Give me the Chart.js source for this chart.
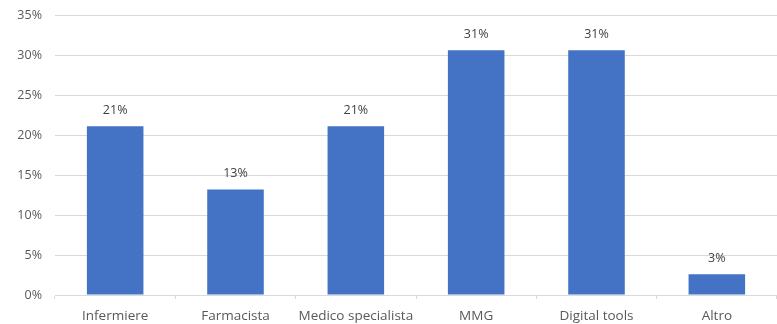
<!DOCTYPE html>
<html>
<head>
<meta charset="utf-8">
<script src="https://cdn.jsdelivr.net/npm/chart.js@4/dist/chart.umd.min.js"></script>
<style>
  html, body { margin: 0; padding: 0; background: #fff; }
  #wrap { width: 777px; height: 324px; }
</style>
</head>
<body>
<div id="wrap"><canvas id="myChart"></canvas></div>
<script>
const categories = ["Infermiere", "Farmacista", "Medico specialista", "MMG", "Digital tools", "Altro"];
const shares = [21.1, 13.2, 21.1, 30.6, 30.6, 2.6];
const yTicks = [0, 5, 10, 15, 20, 25, 30, 35];

const textColor = "#595959";
const fontFamily = "'Open Sans', Lato, sans-serif";

// percentage labels above each bar
const valueLabels = {
    id: "valueLabels",
    afterDatasetsDraw(chart) {
        const ctx = chart.ctx;
        const meta = chart.getDatasetMeta(0);
        ctx.save();
        ctx.font = "12.5px " + fontFamily;
        ctx.fillStyle = "#404040";
        ctx.textAlign = "center";
        ctx.textBaseline = "middle";
        meta.data.forEach((bar, i) => {
            const v = chart.data.datasets[0].data[i];
            ctx.fillText(Math.round(v) + "%", bar.x, bar.y - 16);
        });
        ctx.restore();
    }
};

const ctx = document.getElementById("myChart");
new Chart(ctx, {
    type: "bar",
    data: {
        labels: categories,
        datasets: [{
            data: shares,
            backgroundColor: "#4472C4",
            borderWidth: 0,
            barPercentage: 0.47,
            categoryPercentage: 1
        }]
    },
    options: {
        responsive: true,
        maintainAspectRatio: false,
        animation: false,
        layout: { padding: { top: 15, right: 0, bottom: 0, left: 0 } },
        plugins: {
            legend: { display: false },
            tooltip: { enabled: false }
        },
        scales: {
            x: {
                offset: true,
                grid: {
                    offset: true,
                    drawOnChartArea: false,
                    drawTicks: true,
                    tickLength: 4,
                    color: "#d9d9d9"
                },
                border: { color: "#d9d9d9" },
                ticks: {
                    color: textColor,
                    font: { family: fontFamily, size: 13.5 },
                    padding: 9,
                    maxRotation: 0,
                    autoSkip: false
                },
                afterFit(scale) { scale.height = 29; }
            },
            y: {
                min: 0,
                max: 35,
                afterBuildTicks(scale) {
                    scale.ticks = yTicks.map(v => ({ value: v }));
                },
                grid: { color: "#d9d9d9", drawTicks: false },
                border: { display: false },
                ticks: {
                    color: textColor,
                    font: { family: fontFamily, size: 12.5 },
                    padding: 13,
                    callback: v => v + "%"
                },
                afterFit(scale) {
                    scale.width = 55;
                    scale.paddingTop = 0;
                    scale.paddingBottom = 0;
                }
            }
        }
    },
    plugins: [valueLabels]
});
</script>
</body>
</html>
